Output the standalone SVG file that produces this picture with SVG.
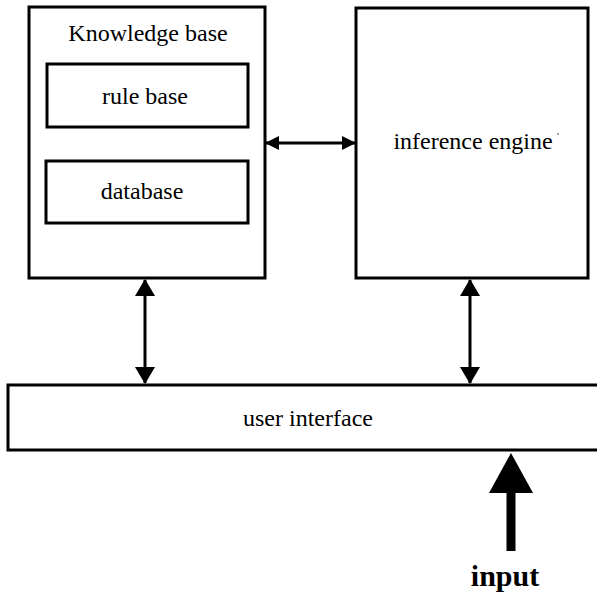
<svg xmlns="http://www.w3.org/2000/svg" width="597" height="592" viewBox="0 0 597 592">
  <style>
    .box { fill: #ffffff; stroke: #000000; stroke-width: 3; }
    .label { font-family: "Liberation Serif", "Times New Roman", serif; font-size: 24px; fill: #000000; text-anchor: middle; }
    .bold { font-weight: bold; font-size: 30px; }
    .link { stroke: #000000; stroke-width: 3; fill: none; }
  </style>
  <defs>
    <!-- small head for the horizontal link, larger one for the vertical links -->
    <marker id="head-h" viewBox="0 0 14 14" refX="13" refY="7" markerWidth="14" markerHeight="14" markerUnits="userSpaceOnUse" orient="auto-start-reverse">
      <path d="M0,0 L14,7 L0,14 Z" fill="#000000"/>
    </marker>
    <marker id="head-v" viewBox="0 0 17 20" refX="16" refY="10" markerWidth="17" markerHeight="20" markerUnits="userSpaceOnUse" orient="auto-start-reverse">
      <path d="M0,0 L17,10 L0,20 Z" fill="#000000"/>
    </marker>
  </defs>
  <rect width="597" height="592" fill="#ffffff"/>

  <g id="knowledge-base">
    <rect class="box" x="29" y="7" width="236" height="271"/>
    <text class="label" x="148" y="41">Knowledge base</text>
  </g>
  <g id="rule-base">
    <rect class="box" x="47" y="64" width="201" height="63"/>
    <text class="label" x="145" y="104">rule base</text>
  </g>
  <g id="database">
    <rect class="box" x="46" y="161" width="202" height="62"/>
    <text class="label" x="142" y="199">database</text>
  </g>
  <g id="inference-engine">
    <rect class="box" x="356" y="8" width="232" height="270"/>
    <text class="label" x="473" y="149">inference engine</text>
    <circle cx="558" cy="134" r="0.9" fill="#777777"/>
  </g>
  <g id="user-interface">
    <path class="box" d="M600,385 H8 V450 H600"/>
    <text class="label" x="308" y="426">user interface</text>
  </g>
  <g id="input">
    <text class="label bold" x="505" y="586">input</text>
  </g>

  <g id="connectors">
    <line class="link" x1="266" y1="143" x2="355" y2="143" marker-start="url(#head-h)" marker-end="url(#head-h)"/>
    <line class="link" x1="145" y1="280" x2="145" y2="383" marker-start="url(#head-v)" marker-end="url(#head-v)"/>
    <line class="link" x1="470" y1="280" x2="470" y2="383" marker-start="url(#head-v)" marker-end="url(#head-v)"/>
    <line x1="511" y1="551" x2="511" y2="488" stroke="#000000" stroke-width="9"/>
    <path d="M511,453 L533,493 L489,493 Z" fill="#000000"/>
  </g>
</svg>
